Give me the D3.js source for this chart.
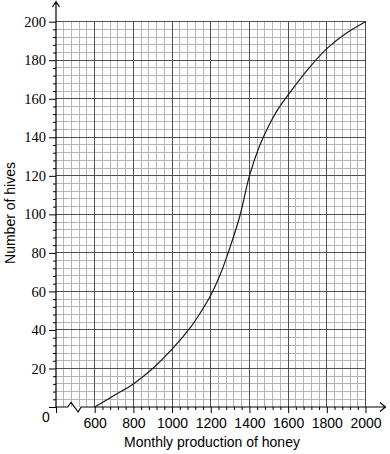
<!DOCTYPE html>
<html>
<head>
<meta charset="utf-8">
<script src="https://cdn.jsdelivr.net/npm/d3@7"></script>
<style>
  body { margin: 0; background: #fff; }
  svg { display: block; }
</style>
</head>
<body>
<div id="chart_area"></div>
<script>
// data
const production = [600, 700, 800, 900, 1000, 1100, 1150, 1200, 1250, 1300, 1350, 1400, 1450, 1500, 1550, 1600, 1700, 1800, 1900, 2000];
const hives = [0, 6, 12, 20, 30, 42, 49.5, 58, 69, 83, 99, 120, 135, 146, 155, 162, 175, 186, 194, 200];

// tick labels
const xTicks = [600, 800, 1000, 1200, 1400, 1600, 1800, 2000];
const yTicks = [20, 40, 60, 80, 100, 120, 140, 160, 180, 200];

const width = 390;
const height = 454;

// ranges
const x = d3.scaleLinear().domain([400, 2000]).range([56, 365.5]);
const y = d3.scaleLinear().domain([0, 200]).range([407, 21.7]);

const svg = d3
  .select('#chart_area')
  .append('svg')
  .attr('width', width)
  .attr('height', height);

// grid: minor lines every 40 / 4, major every 200 / 20
const xMinor = d3.range(440, 2001, 40).filter(d => d % 200 !== 0);
const yMinor = d3.range(4, 201, 4).filter(d => d % 20 !== 0);

const grid = svg.append('g').attr('shape-rendering', 'crispEdges');
grid.selectAll('line.vminor')
  .data(xMinor)
  .enter()
  .append('line')
  .attr('x1', d => x(d)).attr('x2', d => x(d))
  .attr('y1', y(0)).attr('y2', y(200))
  .attr('stroke', '#b4b4b4');
grid.selectAll('line.hminor')
  .data(yMinor)
  .enter()
  .append('line')
  .attr('x1', x(400)).attr('x2', x(2000))
  .attr('y1', d => y(d)).attr('y2', d => y(d))
  .attr('stroke', '#b4b4b4');
grid.selectAll('line.vmajor')
  .data(xTicks)
  .enter()
  .append('line')
  .attr('x1', d => x(d)).attr('x2', d => x(d))
  .attr('y1', y(0)).attr('y2', y(200))
  .attr('stroke', '#505050');
grid.selectAll('line.hmajor')
  .data(yTicks)
  .enter()
  .append('line')
  .attr('x1', x(400)).attr('x2', x(2000))
  .attr('y1', d => y(d)).attr('y2', d => y(d))
  .attr('stroke', '#505050');

// axes
const yAxis = svg.append('g').attr('transform', 'translate(' + x(400) + ',0)');
yAxis.call(d3.axisLeft(y).tickValues(yMinor.concat([0])).tickSize(3).tickFormat(''));
yAxis.call(g => g.select('.domain').remove());
const yAxisMajor = svg.append('g').attr('transform', 'translate(' + x(400) + ',0)');
yAxisMajor.call(d3.axisLeft(y).tickValues([0].concat(yTicks)).tickSize(7).tickPadding(3)
  .tickFormat(d => (d === 0 ? '' : d)));
yAxisMajor.select('.domain').remove();
yAxisMajor.selectAll('text')
  .attr('font-family', '"Liberation Serif", serif')
  .attr('font-size', '14.5px')
  .attr('fill', '#000');

const xAxis = svg.append('g').attr('transform', 'translate(0,' + y(0) + ')');
xAxis.call(d3.axisBottom(x).tickValues(xMinor.filter(d => d > 600)).tickSize(3).tickFormat(''));
xAxis.select('.domain').remove();
const xAxisMajor = svg.append('g').attr('transform', 'translate(0,' + y(0) + ')');
xAxisMajor.call(d3.axisBottom(x).tickValues([400].concat(xTicks)).tickSize(6).tickPadding(5.5)
  .tickFormat(d => (d === 400 ? '' : d)));
xAxisMajor.select('.domain').remove();
xAxisMajor.selectAll('text')
  .attr('font-family', '"Liberation Sans", Arial, sans-serif')
  .attr('font-size', '14px')
  .attr('fill', '#000');

// axis lines with arrows and the break zigzag
const x0 = x(400);
const y0 = y(0);
svg.append('path')
  .attr('d', 'M' + x0 + ',' + y0 + 'V1.5M' + (x0 - 3.5) + ',7L' + x0 + ',1.5L' + (x0 + 3.5) + ',7')
  .attr('fill', 'none').attr('stroke', '#000').attr('stroke-width', 1.2);
const bx = x(460);
svg.append('path')
  .attr('d', 'M' + x0 + ',' + y0 + 'H' + bx +
    'L' + (bx + 3.5) + ',' + (y0 - 4.5) +
    'L' + (bx + 10.5) + ',' + (y0 + 5) +
    'L' + (bx + 13.5) + ',' + y0 +
    'H385.5M380,' + (y0 - 4.5) + 'L385.5,' + y0 + 'L380,' + (y0 + 4.5))
  .attr('fill', 'none').attr('stroke', '#000').attr('stroke-width', 1.2);

// origin label
svg.append('text')
  .attr('x', 46).attr('y', y0 + 15)
  .attr('text-anchor', 'middle')
  .attr('font-family', '"Liberation Sans", Arial, sans-serif')
  .attr('font-size', '14px')
  .text('0');

// curve
const line = d3.line()
  .x((d, i) => x(production[i]))
  .y(d => y(d))
  .curve(d3.curveCatmullRom.alpha(0.5));
svg.append('path')
  .datum(hives)
  .attr('d', line)
  .attr('fill', 'none')
  .attr('stroke', '#1a1a1a')
  .attr('stroke-width', 1.2);

// axis titles
svg.append('text')
  .attr('x', 212).attr('y', 447)
  .attr('text-anchor', 'middle')
  .attr('font-family', '"Liberation Sans", Arial, sans-serif')
  .attr('font-size', '14px')
  .text('Monthly production of honey');
svg.append('text')
  .attr('transform', 'translate(15,213) rotate(-90)')
  .attr('text-anchor', 'middle')
  .attr('font-family', '"Liberation Sans", Arial, sans-serif')
  .attr('font-size', '14px')
  .text('Number of hives');
</script>
</body>
</html>
